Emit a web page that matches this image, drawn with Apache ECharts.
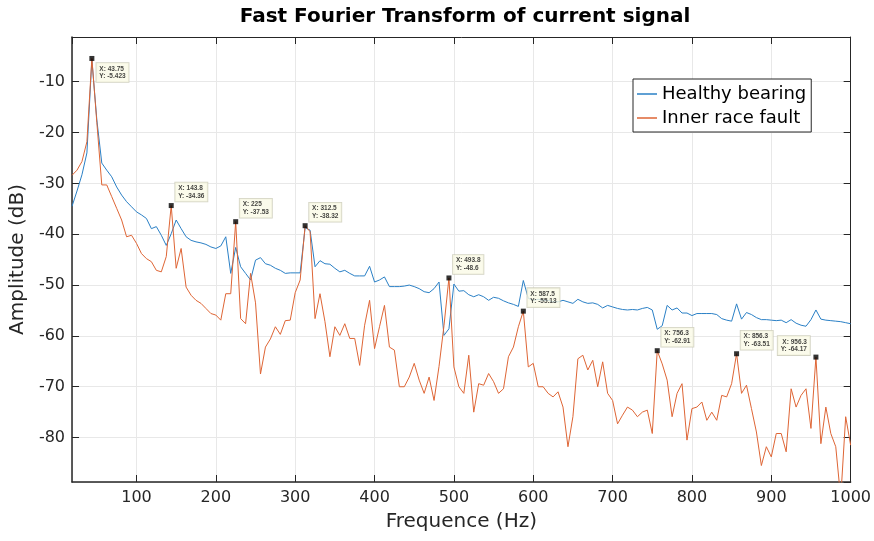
<!DOCTYPE html>
<html><head><meta charset="utf-8">
<script src="https://cdn.jsdelivr.net/npm/echarts@6/dist/echarts.min.js"></script>
<style>html,body{margin:0;padding:0;background:#fff}#c{width:874px;height:541px}</style>
</head><body><div id="c"></div>
<script>
// Frequency bins (Hz): FFT resolution 6.25 Hz starting at 18.75 Hz
const FREQ_START = 18.75;
const FREQ_STEP = 6.25;

// Healthy bearing amplitude (dB)
const healthy = [
  -34.5, -31.5, -28.3, -24.0, -5.6, -17.5, -26.0, -27.4, -28.7, -30.7,
  -32.3, -33.6, -34.6, -35.6, -36.2, -36.9, -38.9, -38.5, -40.2, -42.2,
  -39.9, -37.2, -38.9, -40.5, -41.2, -41.5, -41.7, -42.0, -42.5, -42.8,
  -42.3, -40.5, -47.7, -42.6, -46.4, -47.7, -49.0, -45.1, -44.6, -45.8,
  -46.1, -46.7, -47.1, -47.7, -47.6, -47.6, -47.6, -38.7, -39.2, -46.4,
  -45.2, -45.8, -45.9, -46.7, -47.4, -47.1, -47.7, -48.2, -48.2, -48.2,
  -46.3, -49.4, -49.0, -48.4, -50.3, -50.3, -50.3, -50.2, -50.0, -50.3,
  -50.7, -51.3, -51.5, -50.7, -49.4, -59.9, -58.6, -49.8, -51.2, -51.1,
  -51.9, -52.3, -51.9, -52.3, -53.0, -52.4, -52.6, -53.1, -53.5, -53.8,
  -54.2, -49.1, -52.6, -53.0, -52.8, -53.0, -53.0, -53.3, -53.3, -53.0,
  -53.3, -53.6, -52.8, -53.3, -53.6, -53.5, -53.8, -54.5, -54.0, -54.3,
  -54.6, -54.8, -54.9, -54.8, -54.9, -54.6, -54.4, -54.9, -58.7, -58.0,
  -54.0, -54.9, -54.5, -55.5, -55.5, -56.0, -55.6, -55.6, -55.6, -55.6,
  -55.8, -56.6, -56.9, -57.1, -53.7, -56.7, -55.4, -55.8, -56.4, -56.8,
  -56.8, -56.9, -57.0, -56.9, -57.4, -56.8, -57.5, -57.9, -58.1, -56.8,
  -54.9, -56.7, -56.9, -57.0, -57.1, -57.2, -57.4, -57.6
];

// Inner race fault amplitude (dB)
const innerRace = [
  -28.4, -27.4, -25.7, -21.8, -5.423, -18.0, -30.3, -30.3, -32.6, -34.9,
  -37.2, -40.5, -40.2, -41.8, -43.8, -44.8, -45.4, -47.1, -47.4, -44.4,
  -34.36, -46.7, -42.8, -50.4, -52.0, -53.0, -53.6, -54.6, -55.6, -55.9,
  -56.9, -51.7, -51.7, -37.53, -56.6, -57.6, -47.7, -53.5, -67.5, -62.2,
  -60.6, -58.2, -59.7, -57.0, -56.9, -51.5, -49.0, -38.32, -39.5, -56.6,
  -51.7, -57.2, -64.1, -58.2, -59.9, -57.6, -60.5, -60.5, -65.8, -57.9,
  -53.0, -62.5, -58.2, -54.0, -62.2, -62.8, -70.0, -70.0, -68.1, -65.4,
  -68.7, -71.3, -68.1, -72.7, -66.0, -58.0, -48.6, -66.1, -70.0, -71.3,
  -63.8, -75.0, -69.4, -69.7, -67.4, -69.0, -71.3, -70.4, -64.1, -62.2,
  -58.2, -55.13, -66.1, -65.4, -70.0, -70.0, -71.3, -72.0, -71.0, -74.0,
  -81.8, -75.9, -64.5, -63.8, -66.7, -64.8, -70.0, -65.1, -71.3, -72.7,
  -77.3, -75.6, -74.0, -74.6, -75.9, -75.0, -74.6, -79.2, -62.91, -65.5,
  -68.7, -75.9, -71.3, -69.4, -80.5, -74.3, -74.0, -73.0, -76.6, -75.0,
  -76.6, -71.7, -72.0, -69.4, -63.51, -71.3, -69.7, -74.3, -78.9, -85.5,
  -81.8, -83.8, -79.2, -79.2, -82.8, -70.4, -74.0, -71.7, -70.4, -78.2,
  -64.17, -81.2, -74.0, -79.2, -81.8, -92.0, -75.9, -81.5
];

// Data tips shown on the inner race fault curve
const tipFreq = [43.75, 143.75, 225, 312.5, 493.75, 587.5, 756.25, 856.25, 956.25];
const tipAmp  = [-5.423, -34.36, -37.53, -38.32, -48.6, -55.13, -62.91, -63.51, -64.17];

const seriesNames = ['Healthy bearing', 'Inner race fault'];
const titleText = 'Fast Fourier Transform of current signal';
const xName = 'Frequence (Hz)';
const yName = 'Amplitude (dB)';
const X_MIN = 18.75, X_MAX = 1000, X_STEP = 100;
const Y_MIN = -88.74, Y_MAX = -1.2, Y_STEP = 10;

const freq = healthy.map((_, i) => FREQ_START + i * FREQ_STEP);
const pairs = arr => arr.map((v, i) => [freq[i], v]);
const fmt = v => String(parseFloat(v.toPrecision(4)));

const FONT = 'DejaVu Sans';
const AXC = '#262626';
const BLUE = '#2a80c6';
const ORANGE = '#de6535';

function tipLabel(i) {
  const last = i === tipFreq.length - 1;
  if (i === 0) return { position: [7, 7], align: 'left', verticalAlign: 'top' };
  if (last) return { position: [-3.5, 0.5], align: 'right', verticalAlign: 'bottom' };
  return { position: [6.5, -1.5], align: 'left', verticalAlign: 'bottom' };
}

const tipData = tipFreq.map((f, i) => {
  const p = tipLabel(i);
  return { value: [f, tipAmp[i]], label: { position: p.position, align: p.align, verticalAlign: p.verticalAlign } };
});

const mainX = {
  type: 'value', min: X_MIN, max: X_MAX, minInterval: X_STEP, maxInterval: X_STEP,
  name: xName, nameLocation: 'middle', nameGap: 30,
  nameTextStyle: { fontFamily: FONT, fontSize: 20, color: AXC },
  axisLine: { show: true, onZero: false, lineStyle: { color: AXC, width: 1.5 } },
  axisTick: { show: true, inside: true, length: 7, lineStyle: { color: AXC, width: 1 } },
  axisLabel: { showMinLabel: false, margin: 8, fontFamily: FONT, fontSize: 16, color: AXC,
    formatter: v => String(v) },
  splitLine: { show: true, lineStyle: { color: '#e8e8e8', width: 1 } }
};
const topX = {
  type: 'value', position: 'top', min: X_MIN, max: X_MAX, minInterval: X_STEP, maxInterval: X_STEP,
  axisLine: { show: true, onZero: false, lineStyle: { color: AXC, width: 1 } },
  axisTick: { show: true, inside: true, length: 7, lineStyle: { color: AXC, width: 1 } },
  axisLabel: { show: false }, splitLine: { show: false }
};
const mainY = {
  type: 'value', min: Y_MIN, max: Y_MAX, minInterval: Y_STEP, maxInterval: Y_STEP,
  name: yName, nameLocation: 'middle', nameGap: 38, nameRotate: 90,
  nameTextStyle: { fontFamily: FONT, fontSize: 20, color: AXC },
  axisLine: { show: true, onZero: false, lineStyle: { color: AXC, width: 1.5 } },
  axisTick: { show: true, inside: true, length: 7, lineStyle: { color: AXC, width: 1 } },
  axisLabel: { showMinLabel: false, showMaxLabel: false, margin: 7, fontFamily: FONT, fontSize: 16, color: AXC,
    formatter: v => String(v) },
  splitLine: { show: true, lineStyle: { color: '#e8e8e8', width: 1 } }
};
const rightY = {
  type: 'value', position: 'right', min: Y_MIN, max: Y_MAX, minInterval: Y_STEP, maxInterval: Y_STEP,
  axisLine: { show: true, onZero: false, lineStyle: { color: AXC, width: 1 } },
  axisTick: { show: true, inside: true, length: 7, lineStyle: { color: AXC, width: 1 } },
  axisLabel: { show: false }, splitLine: { show: false }
};

const chart = echarts.init(document.getElementById('c'), null, { renderer: 'canvas' });
chart.setOption({
  animation: false,
  backgroundColor: '#fff',
  title: {
    text: titleText, left: 460, top: 2, textAlign: 'center',
    textStyle: { fontFamily: FONT, fontWeight: 'bold', fontSize: 20, color: '#000' }
  },
  grid: { left: 70, right: 23, top: 37, bottom: 59 },
  legend: {
    data: seriesNames, orient: 'vertical', left: 633, top: 79,
    padding: [6, 5, 5, 4], itemGap: 6, itemWidth: 20, itemHeight: 1.5, icon: 'rect',
    backgroundColor: '#fff', borderColor: AXC, borderWidth: 1, borderRadius: 0,
    textStyle: { fontFamily: FONT, fontSize: 18, lineHeight: 18, color: '#000' }
  },
  xAxis: [mainX, topX],
  yAxis: [mainY, rightY],
  series: [
    { name: seriesNames[0], type: 'line', data: pairs(healthy), symbol: 'none',
      lineStyle: { color: BLUE, width: 1 }, itemStyle: { color: BLUE }, z: 2 },
    { name: seriesNames[1], type: 'line', data: pairs(innerRace), symbol: 'none',
      lineStyle: { color: ORANGE, width: 1 }, itemStyle: { color: ORANGE }, z: 3 },
    { type: 'scatter', data: tipData, symbol: 'rect', symbolSize: 5, z: 5,
      itemStyle: { color: '#000' }, silent: true,
      label: {
        show: true,
        formatter: p => 'X: ' + fmt(p.value[0]) + '\nY: ' + fmt(p.value[1]),
        fontFamily: 'Liberation Sans', fontWeight: 'bold', fontSize: 6.5, lineHeight: 7.5,
        color: '#111', backgroundColor: '#fafae6', borderColor: '#c8c8b4', borderWidth: 0.8,
        padding: [2, 3, 2, 3]
      }
    }
  ]
});
</script>
</body></html>
